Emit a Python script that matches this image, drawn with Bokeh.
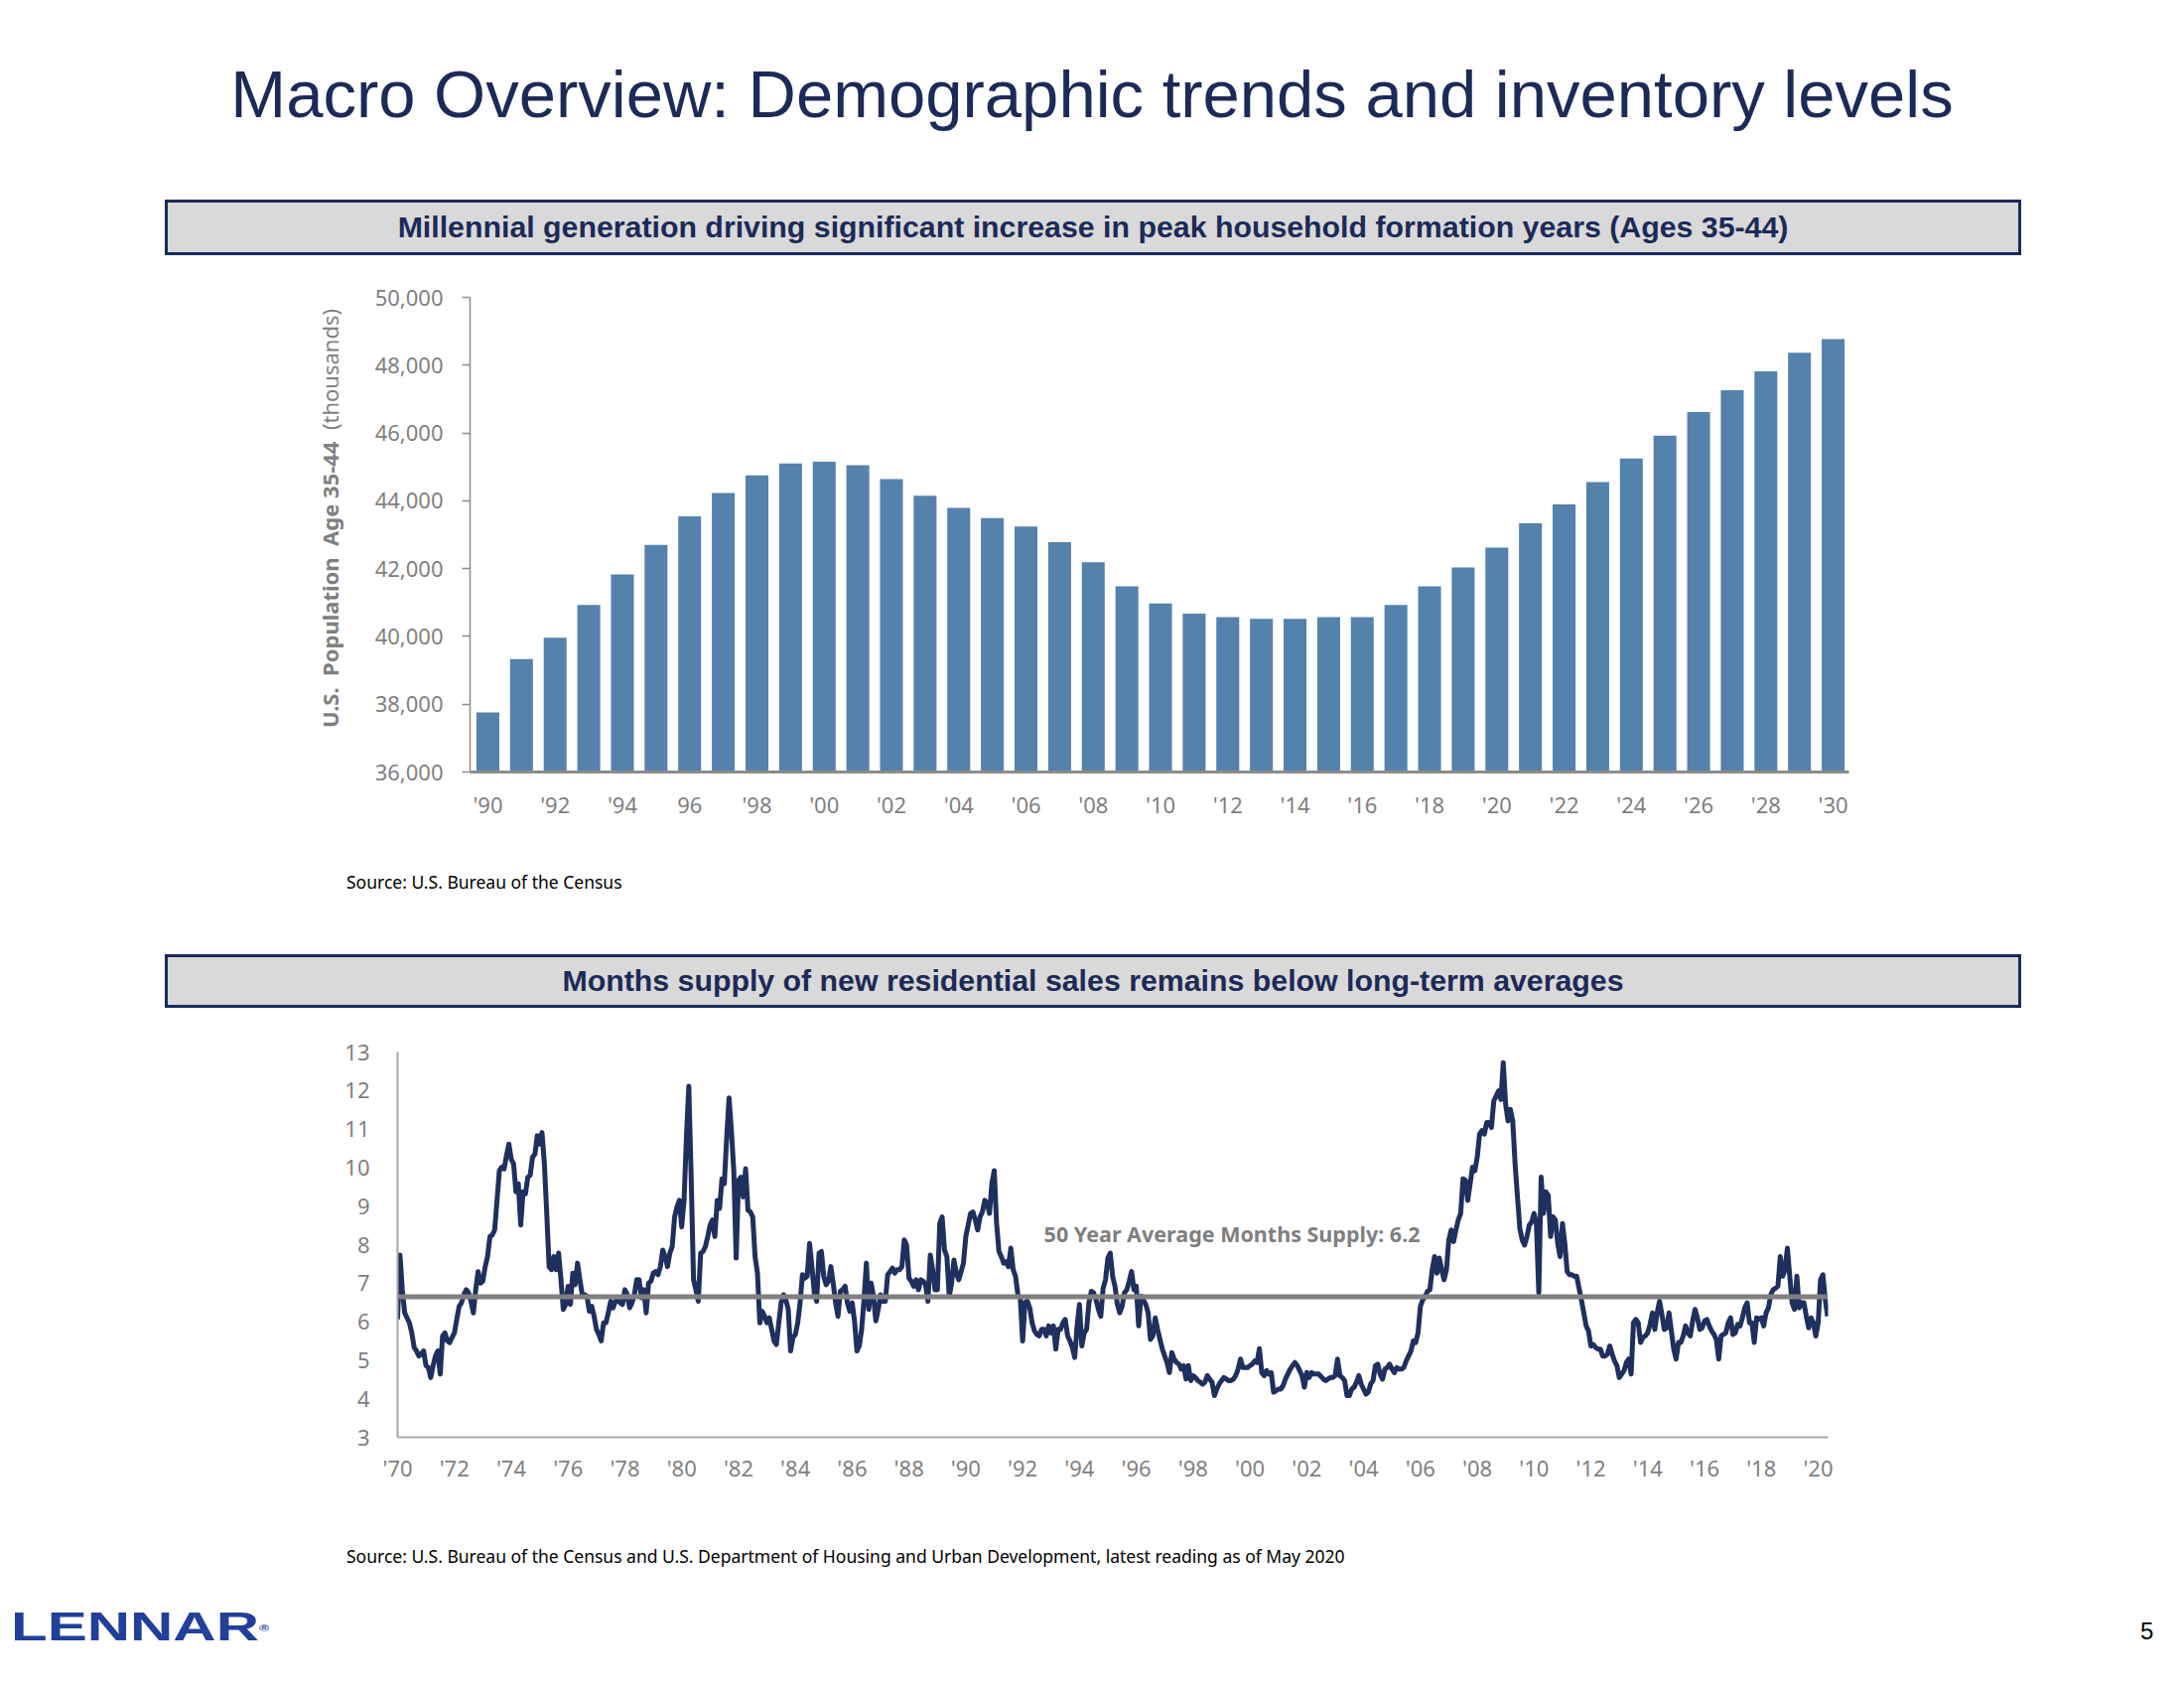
from bokeh.plotting import figure
from bokeh.models import (Range1d, FixedTicker, Label, Div, ColumnDataSource, Span,
                          NumeralTickFormatter)
from bokeh.layouts import column, row
from bokeh.embed import file_html
from bokeh.resources import INLINE

# ---------------- data ----------------
title_text = "Macro Overview: Demographic trends and inventory levels"
header1_text = "Millennial generation driving significant increase in peak household formation years (Ages 35-44)"
header2_text = "Months supply of new residential sales remains below long-term averages"
source1_text = "Source: U.S. Bureau of the Census"
source2_text = ("Source: U.S. Bureau of the Census and U.S. Department of Housing and Urban "
                "Development, latest reading as of May 2020")

pop_years = list(range(1990, 2031))
pop_values = [37760, 39330, 39960, 40930, 41830, 42700, 43540, 44230, 44750, 45100,
              45150, 45050, 44640, 44150, 43790, 43490, 43240, 42780, 42190, 41480,
              40970, 40670, 40570, 40520, 40520, 40570, 40570, 40930, 41480, 42030,
              42620, 43340, 43890, 44550, 45250, 45920, 46620, 47260, 47820, 48370,
              48770]
pop_tick_labels = ["'90", "'92", "'94", "96", "'98", "'00", "'02", "'04", "'06", "'08",
                   "'10", "'12", "'14", "'16", "'18", "'20", "'22", "'24", "'26", "'28", "'30"]
pop_y_ticks = [36000, 38000, 40000, 42000, 44000, 46000, 48000, 50000]
pop_y_label_bold = "U.S.&nbsp; Population&nbsp; Age 35-44"
pop_y_label_plain = "(thousands)"

supply_by_year = {
    1970: [6.06, 7.73, 6.83, 6.23, 6.1, 5.97, 5.71, 5.33, 5.24, 5.11, 5.16, 5.24],
    1971: [4.86, 4.81, 4.55, 4.86, 5.11, 5.24, 4.64, 5.63, 5.71, 5.5, 5.46, 5.59],
    1972: [5.71, 6.06, 6.4, 6.49, 6.7, 6.83, 6.75, 6.53, 6.23, 6.83, 7.3, 7.0],
    1973: [7.05, 7.43, 7.69, 8.21, 8.25, 8.38, 9.15, 9.92, 10.01, 9.97, 10.31, 10.61],
    1974: [10.22, 10.1, 9.37, 9.58, 8.51, 9.37, 9.32, 9.75, 9.8, 10.27, 10.35, 10.83],
    1975: [10.61, 10.91, 10.1, 8.81, 7.43, 7.35, 7.69, 7.35, 7.78, 7.09, 6.32, 6.45],
    1976: [6.92, 6.45, 7.26, 6.96, 7.52, 7.09, 6.7, 6.7, 6.66, 6.27, 6.4, 6.14],
    1977: [5.8, 5.67, 5.5, 5.97, 5.97, 6.23, 6.53, 6.36, 6.53, 6.57, 6.49, 6.45],
    1978: [6.83, 6.7, 6.36, 6.49, 6.7, 7.09, 7.09, 6.62, 6.83, 6.23, 7.0, 7.05],
    1979: [7.26, 7.3, 7.22, 7.43, 7.86, 7.69, 7.43, 7.78, 7.95, 8.72, 8.98, 9.15],
    1980: [8.46, 9.15, 10.8, 12.11, 9.75, 7.09, 6.83, 6.53, 7.78, 7.82, 7.95, 8.21],
    1981: [8.51, 8.64, 8.21, 9.15, 8.94, 9.71, 9.58, 10.78, 11.81, 10.95, 9.92, 7.65],
    1982: [9.67, 9.75, 9.24, 9.97, 8.89, 8.85, 8.72, 7.69, 7.26, 5.97, 6.27, 6.14],
    1983: [5.97, 6.1, 5.8, 5.5, 5.41, 5.97, 6.49, 6.7, 6.57, 6.32, 5.24, 5.59],
    1984: [5.67, 5.97, 6.49, 7.22, 7.13, 7.18, 8.03, 7.43, 6.75, 6.53, 7.78, 7.82],
    1985: [7.18, 6.96, 7.05, 7.43, 7.0, 6.49, 6.14, 6.79, 6.83, 6.92, 6.49, 6.27],
    1986: [6.49, 6.02, 5.24, 5.37, 5.8, 6.57, 7.52, 6.32, 7.0, 6.66, 6.02, 6.32],
    1987: [6.7, 6.53, 6.53, 7.22, 7.3, 7.39, 7.26, 7.35, 7.35, 7.43, 8.12, 7.99],
    1988: [7.13, 7.05, 6.92, 7.09, 6.83, 7.09, 7.05, 6.96, 6.53, 7.73, 7.35, 6.83],
    1989: [6.83, 8.55, 8.72, 7.86, 7.69, 6.66, 7.0, 7.6, 7.26, 7.09, 7.3, 7.52],
    1990: [8.21, 8.51, 8.81, 8.85, 8.64, 8.38, 8.72, 8.85, 9.15, 9.07, 8.81, 9.58],
    1991: [9.92, 8.55, 7.82, 7.69, 7.52, 7.56, 7.43, 7.91, 7.35, 7.18, 6.7, 6.62],
    1992: [5.5, 6.5, 6.53, 6.36, 5.97, 5.76, 5.67, 5.63, 5.8, 5.8, 5.63, 5.89],
    1993: [5.71, 5.89, 5.29, 5.8, 5.8, 5.97, 6.06, 5.63, 5.5, 5.33, 5.07, 5.89],
    1994: [6.45, 5.37, 5.71, 5.8, 6.49, 6.79, 6.75, 6.57, 6.32, 6.14, 6.87, 7.09],
    1995: [7.65, 7.78, 7.18, 6.92, 6.45, 6.23, 6.4, 6.75, 6.83, 7.05, 7.3, 6.83],
    1996: [6.92, 5.89, 6.66, 6.57, 6.45, 6.23, 5.54, 5.63, 6.1, 5.8, 5.54, 5.29],
    1997: [5.11, 4.94, 4.68, 5.2, 5.03, 4.94, 4.9, 4.77, 4.86, 4.51, 4.86, 4.47],
    1998: [4.6, 4.55, 4.47, 4.43, 4.38, 4.43, 4.6, 4.51, 4.43, 4.08, 4.25, 4.38],
    1999: [4.47, 4.55, 4.51, 4.47, 4.47, 4.51, 4.6, 4.77, 5.03, 4.81, 4.81, 4.81],
    2000: [4.86, 4.9, 4.98, 4.94, 5.3, 4.68, 4.6, 4.73, 4.64, 4.68, 4.17, 4.21],
    2001: [4.25, 4.25, 4.34, 4.51, 4.64, 4.77, 4.86, 4.94, 4.86, 4.73, 4.6, 4.3],
    2002: [4.68, 4.55, 4.68, 4.64, 4.64, 4.64, 4.58, 4.51, 4.47, 4.51, 4.55, 4.55],
    2003: [4.6, 5.03, 4.6, 4.55, 4.47, 4.08, 4.08, 4.25, 4.3, 4.43, 4.6, 4.38],
    2004: [4.25, 4.12, 4.17, 4.38, 4.47, 4.86, 4.9, 4.64, 4.51, 4.77, 4.81, 4.9],
    2005: [4.77, 4.68, 4.81, 4.77, 4.77, 4.81, 4.98, 5.11, 5.24, 5.5, 5.46, 5.71],
    2006: [6.4, 6.57, 6.66, 6.79, 6.83, 7.35, 7.69, 7.26, 7.65, 7.35, 7.09, 7.35],
    2007: [8.12, 8.38, 8.08, 8.38, 8.64, 8.81, 9.71, 9.67, 9.15, 9.58, 10.01, 9.92],
    2008: [10.27, 10.87, 10.96, 10.87, 11.17, 11.17, 11.04, 11.73, 11.86, 11.99, 11.77, 12.72],
    2009: [11.64, 11.21, 11.51, 11.21, 10.1, 9.24, 8.42, 8.12, 7.99, 8.21, 8.51, 8.59],
    2010: [8.81, 8.55, 6.75, 9.75, 8.81, 9.37, 9.28, 8.21, 8.72, 8.64, 8.03, 7.69],
    2011: [8.55, 8.03, 7.3, 7.22, 7.22, 7.18, 7.18, 6.87, 6.57, 6.23, 5.89, 5.76],
    2012: [5.37, 5.41, 5.33, 5.29, 5.29, 5.11, 5.11, 5.16, 5.37, 5.16, 4.98, 4.86],
    2013: [4.55, 4.64, 4.73, 4.94, 5.03, 4.64, 5.97, 6.06, 5.97, 5.46, 5.59, 5.63],
    2014: [5.71, 5.93, 6.23, 5.8, 6.23, 6.53, 6.19, 5.8, 5.84, 6.23, 5.76, 5.29],
    2015: [5.03, 5.46, 5.46, 5.63, 5.89, 5.71, 5.63, 6.02, 6.32, 6.1, 5.8, 5.84],
    2016: [6.02, 6.06, 5.89, 5.76, 5.67, 5.54, 5.03, 5.63, 5.67, 5.71, 5.97, 6.1],
    2017: [5.67, 5.71, 5.93, 5.89, 6.1, 6.36, 6.49, 5.97, 5.97, 5.46, 6.1, 6.06],
    2018: [6.1, 5.89, 6.23, 6.36, 6.7, 6.83, 6.87, 6.92, 7.69, 7.18, 7.35, 7.91],
    2019: [7.18, 6.49, 6.32, 7.18, 6.36, 6.49, 6.49, 6.14, 5.84, 6.1, 5.97, 5.63],
    2020: [5.97, 7.09, 7.22, 6.57, 6.14],
}
supply_tick_years = list(range(1970, 2021, 2))
supply_tick_labels = ["'70", "'72", "'74", "'76", "'78", "'80", "'82", "'84", "'86", "'88",
                      "'90", "'92", "'94", "'96", "'98", "'00", "'02", "'04", "'06", "'08",
                      "'10", "'12", "'14", "'16", "'18", "'20"]
supply_y_ticks = [3, 4, 5, 6, 7, 8, 9, 10, 11, 12, 13]
avg_line_level = 6.65
avg_label_text = "50 Year Average Months Supply: 6.2"
avg_label_pos = (1992.75, 8.28)
latest_label_text = "5.6"
latest_label_value = 5.6

# ---------------- styles ----------------
W = 2184
NAVY = "#1c2a57"
LINE_NAVY = "#1f305e"
BAR = "#5482ac"
GRAY = "#7f7f7f"
AXIS_GRAY = "#8c8c8c"
TF = "Noto Sans"
HF = "'Liberation Sans', Arial, sans-serif"

def html_block(width, height, inner):
    return (f'<div style="position:relative;width:{width}px;height:{height}px;margin:0;padding:0;">'
            f'{inner}</div>')

title_div = Div(width=W, height=193, margin=0, text=html_block(W, 193,
    f'<div style="position:absolute;left:0;top:53px;width:{W}px;text-align:center;'
    f'font-family:{HF};font-size:67px;line-height:67px;color:{NAVY};white-space:nowrap;">'
    f'{title_text}</div>'))

def header_div(height, text):
    return Div(width=W, height=height, margin=0, text=html_block(W, height,
        f'<div style="position:absolute;left:158px;top:0;width:1870px;height:{height}px;'
        f'box-sizing:border-box;border:3px solid {NAVY};background:#d9d9d9;text-align:center;'
        f'font-family:{HF};font-weight:bold;font-size:30.3px;line-height:{height-6}px;'
        f'color:{NAVY};white-space:nowrap;">{text}</div>'))

def source_div(height, top, text):
    return Div(width=W, height=height, margin=0, text=html_block(W, height,
        f'<div style="position:absolute;left:341px;top:{top}px;font-family:\'{TF}\';'
        f'font-size:17.5px;line-height:20px;color:#000000;white-space:nowrap;">{text}</div>'))

# ---------------- bar chart ----------------
LAB_W = 345                       # width of the block holding the rotated y title
P1_LEFT, P1_RIGHT, P1_TOP, P1_BOTTOM = 465 - LAB_W, 330, 42, 91
P1_H = 611
p1 = figure(width=W - LAB_W, height=P1_H, title=None, output_backend="svg",
            toolbar_location=None,
            x_range=Range1d(-0.53, 40.47), y_range=Range1d(pop_y_ticks[0], pop_y_ticks[-1]),
            min_border_left=P1_LEFT, min_border_right=P1_RIGHT,
            min_border_top=P1_TOP, min_border_bottom=P1_BOTTOM)
p1.frame_align = False
bar_src = ColumnDataSource(dict(x=list(range(len(pop_years))), top=pop_values,
                                year=pop_years))
p1.vbar(x="x", top="top", bottom=pop_y_ticks[0], width=0.68, source=bar_src,
        fill_color=BAR, line_color=None)
p1.xaxis.ticker = FixedTicker(ticks=list(range(0, len(pop_years), 2)))
p1.xaxis.major_label_overrides = {i * 2: lbl for i, lbl in enumerate(pop_tick_labels)}
p1.yaxis.ticker = FixedTicker(ticks=pop_y_ticks)
p1.yaxis.formatter = NumeralTickFormatter(format="0,0")
for ax in (p1.xaxis[0], p1.yaxis[0]):
    ax.major_label_text_color = GRAY
    ax.major_label_text_font = TF
    ax.major_label_text_font_size = "22px"
    ax.minor_tick_line_color = None
    ax.axis_line_color = AXIS_GRAY
p1.xaxis.axis_line_width = 3
p1.xaxis.major_tick_line_color = None
p1.xaxis.major_tick_out = 0
p1.xaxis.major_tick_in = 0
p1.xaxis.major_label_standoff = 17
p1.yaxis.axis_line_width = 1.5
p1.yaxis.major_tick_line_color = AXIS_GRAY
p1.yaxis.major_tick_line_width = 1.5
p1.yaxis.major_tick_out = 8
p1.yaxis.major_tick_in = 0
p1.yaxis.major_label_standoff = 19
p1.xgrid.visible = False
p1.ygrid.visible = False
p1.outline_line_color = None

ylab_div = Div(width=LAB_W, height=P1_H, margin=0, text=html_block(LAB_W, P1_H,
    f'<div style="position:absolute;left:312px;top:476px;transform:rotate(-90deg);'
    f'transform-origin:left top;white-space:nowrap;font-family:\'{TF}\';font-size:22px;'
    f'line-height:24px;color:{GRAY};"><b>{pop_y_label_bold}</b>&nbsp; {pop_y_label_plain}</div>'))

# ---------------- line chart ----------------
xs, ys = [], []
for yr, vals in supply_by_year.items():
    for i, v in enumerate(vals):
        xs.append(yr + i / 12.0)
        ys.append(v)
line_src = ColumnDataSource(dict(x=xs, y=ys))

p2 = figure(width=W, height=523, title=None, output_backend="svg", toolbar_location=None,
            x_range=Range1d(1970, 2020.35), y_range=Range1d(supply_y_ticks[0], supply_y_ticks[-1]),
            min_border_left=392, min_border_right=351, min_border_top=44, min_border_bottom=91)
p2.frame_align = False
p2.line(x="x", y="y", source=line_src, line_color=LINE_NAVY, line_width=5,
        line_join="round")
p2.add_layout(Span(location=avg_line_level, dimension="width", line_color="#808080",
                   line_width=5))
p2.xaxis.ticker = FixedTicker(ticks=supply_tick_years)
p2.xaxis.major_label_overrides = {y: l for y, l in zip(supply_tick_years, supply_tick_labels)}
p2.yaxis.ticker = FixedTicker(ticks=supply_y_ticks)
for ax in (p2.xaxis[0], p2.yaxis[0]):
    ax.major_label_text_color = GRAY
    ax.major_label_text_font = TF
    ax.major_label_text_font_size = "22px"
    ax.minor_tick_line_color = None
    ax.major_tick_line_color = None
    ax.major_tick_out = 0
    ax.major_tick_in = 0
    ax.axis_line_color = "#a6a6a6"
    ax.axis_line_width = 2
p2.xaxis.major_label_standoff = 15
p2.yaxis.major_label_standoff = 28
p2.xgrid.visible = False
p2.ygrid.visible = False
p2.outline_line_color = None
p2.add_layout(Label(x=avg_label_pos[0], y=avg_label_pos[1], text=avg_label_text,
                    text_font=TF, text_font_style="bold", text_font_size="21.5px",
                    text_color=GRAY, text_align="left", text_baseline="middle"))
p2.add_layout(Label(x=xs[-1], y=latest_label_value, x_offset=3, text=latest_label_text,
                    text_font=TF, text_font_style="bold", text_font_size="20px",
                    text_color=NAVY, text_align="left", text_baseline="middle"))

# ---------------- footer ----------------
footer = Div(width=W, height=84, margin=0, text=html_block(W, 84,
    f'<div style="position:absolute;left:3px;top:10px;font-family:{HF};font-weight:bold;'
    f'font-size:40px;line-height:40px;color:#22409a;white-space:nowrap;'
    f'transform:scaleX(1.5);transform-origin:left top;">LENNAR'
    f'<span style="font-size:9px;vertical-align:top;position:relative;top:2px;">&#174;</span></div>'
    f'<div style="position:absolute;left:2148px;top:23px;font-family:{HF};font-size:24px;'
    f'line-height:24px;color:#000000;">5</div>'))

layout = column(
    title_div,
    header_div(56, header1_text),
    row(ylab_div, p1, spacing=0, margin=0),
    source_div(93, 10, source1_text),
    header_div(54, header2_text),
    p2,
    source_div(70, 19, source2_text),
    footer,
    spacing=0, margin=(8, 0, 0, 8),
)

open("out.html", "w").write(file_html(layout, INLINE))
